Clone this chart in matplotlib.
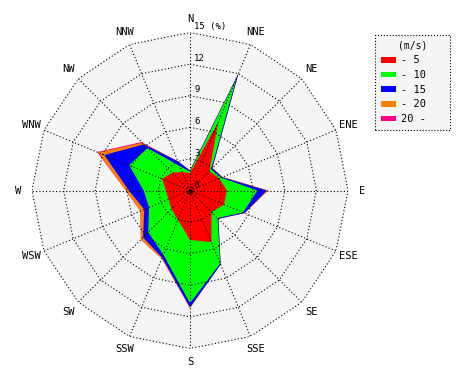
import numpy as np
import matplotlib.pyplot as plt
from matplotlib.patches import Patch

directions = ['N', 'NNE', 'NE', 'ENE', 'E', 'ESE', 'SE', 'SSE',
              'S', 'SSW', 'SW', 'WSW', 'W', 'WNW', 'NW', 'NNW']
speed_labels = ['- 5', '- 10', '- 15', '- 20', '20 -']
colors = ['#ff0000', '#00ff00', '#0000ff', '#ff8000', '#ff0080']

# frequency (%) of each speed class per direction
f_0_5 = [1.65, 7.0, 2.6, 3.0, 3.5, 3.5, 2.9, 5.3, 4.7, 3.0, 2.5, 2.2, 2.3, 2.85, 2.4, 1.9]
f_5_10 = [0.15, 4.5, 0.25, 0.2, 2.9, 1.95, 0.8, 2.2, 6.0, 3.6, 3.1, 2.0, 2.1, 3.4, 3.3, 0.6]
f_10_15 = [0.1, 0.5, 0.15, 0.1, 0.9, 0.15, 0.1, 0.1, 0.4, 0.3, 0.7, 0.5, 1.4, 2.55, 0.5, 0.5]
f_15_20 = [0.0, 0.0, 0.0, 0.05, 0.1, 0.0, 0.0, 0.0, 0.05, 0.1, 0.3, 0.4, 0.3, 0.65, 0.2, 0.0]
f_20_up = [0.0, 0.0, 0.0, 0.0, 0.0, 0.0, 0.0, 0.0, 0.0, 0.0, 0.0, 0.0, 0.0, 0.1, 0.1, 0.0]

rings = [3, 6, 9, 12, 15]
rmax = 15

theta = np.deg2rad(np.arange(len(directions)) * 22.5)
theta_c = np.append(theta, theta[0])
cum = np.cumsum(np.array([f_0_5, f_5_10, f_10_15, f_15_20, f_20_up]), axis=0)

fig = plt.figure(figsize=(4.7, 3.8), dpi=100)
ax = fig.add_axes([32/470, 31.5/380, 316/470, 316/380], projection='polar')
ax.set_theta_zero_location('N')
ax.set_theta_direction(-1)
ax.set_ylim(0, rmax)
ax.set_axis_off()

# grey background polygon
ax.fill(theta_c, np.full(len(theta_c), rmax), color='#f5f5f5', zorder=0)

# stacked speed classes, outermost first
for i in range(4, -1, -1):
    r = np.append(cum[i], cum[i][0])
    ax.fill(theta_c, r, color=colors[i], lw=0, zorder=1 + (4 - i))

# polygon grid
dots = (0, (1, 2))
for rr in rings:
    ax.plot(theta_c, np.full(len(theta_c), rr), color='black', lw=0.8, ls=dots, zorder=10)
for t in theta:
    ax.plot([t, t], [0, rmax], color='black', lw=0.8, ls=dots, zorder=10)
ax.plot([0], [0], 'o', ms=2.5, mfc='none', mec='black', mew=0.8, zorder=11)

for t, name in zip(theta, directions):
    ax.text(t, 16.3, name, ha='center', va='center', fontsize=7.5,
            family='DejaVu Sans Mono')

for rr in rings:
    lab = '15 (%)' if rr == rmax else str(rr)
    ax.annotate(lab, (0, rr), xytext=(3, 1), textcoords='offset points',
                ha='left', va='bottom', fontsize=6.5, family='DejaVu Sans Mono', zorder=12)
ax.annotate('0', (0, 0), xytext=(3, 0), textcoords='offset points',
            ha='left', va='bottom', fontsize=5.5, family='DejaVu Sans Mono', zorder=12)

handles = [Patch(facecolor=c, edgecolor='none') for c in colors]
leg = fig.legend(handles, speed_labels, title='(m/s)', loc='upper left',
                 bbox_to_anchor=(375/470, (380 - 131)/380, 75/470, 96/380),
                 mode='expand', borderaxespad=0,
                 fancybox=False, frameon=True, prop={'family': 'DejaVu Sans Mono', 'size': 7.5},
                 title_fontproperties={'family': 'DejaVu Sans Mono', 'size': 7},
                 handlelength=1.5, handleheight=0.45, handletextpad=0.4,
                 labelspacing=0.45, borderpad=0.55)
frame = leg.get_frame()
frame.set_facecolor('#f5f5f5')
frame.set_edgecolor('black')
frame.set_linestyle(':')
frame.set_linewidth(0.8)
frame.set_alpha(1)

fig.savefig('out.png', dpi=100)
